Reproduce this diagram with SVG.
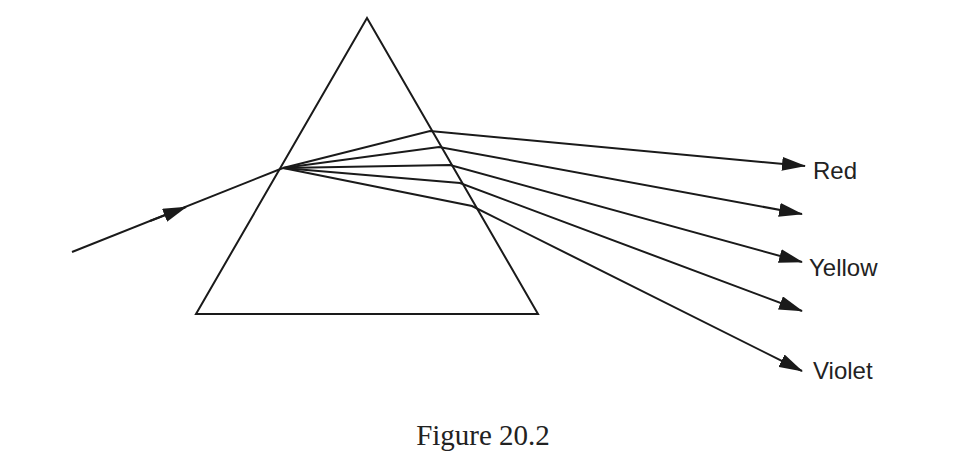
<svg xmlns="http://www.w3.org/2000/svg" width="966" height="471" viewBox="0 0 966 471">
<style>
.l{stroke:#1a1a1a;stroke-width:2;fill:none}
.t{font-family:"Liberation Sans",Arial,sans-serif;font-size:24px;fill:#222}
</style>
<defs>
<marker id="a" markerUnits="userSpaceOnUse" markerWidth="24" markerHeight="14" viewBox="0 0 24 14" refX="23" refY="7" orient="auto">
<path d="M0,0 L24,7 L0,14 Z" fill="#1a1a1a"/>
</marker>
</defs>
<rect width="966" height="471" fill="#fff"/>
<g id="prism"><path class="l" d="M367,18 L538,314 L196,314 Z"/></g>
<g id="connectors">
<line class="l" x1="72" y1="252" x2="283" y2="168"/>
<line class="l" x1="150" y1="221" x2="186" y2="207" marker-end="url(#a)"/>
<path class="l" d="M283,168 L430,131 L805,166" marker-end="url(#a)"/>
<path class="l" d="M283,168 L439,147 L802,214" marker-end="url(#a)"/>
<path class="l" d="M283,168 L450,165 L802,262" marker-end="url(#a)"/>
<path class="l" d="M283,168 L460,183 L802,311" marker-end="url(#a)"/>
<path class="l" d="M283,168 L472,206 L802,371" marker-end="url(#a)"/>
</g>
<text class="t" x="813" y="179">Red</text>
<text class="t" x="809" y="276">Yellow</text>
<text class="t" x="813" y="379">Violet</text>
<text x="483" y="445" text-anchor="middle" font-family="Liberation Serif,'Times New Roman',serif" font-size="29" fill="#222">Figure 20.2</text>
</svg>
